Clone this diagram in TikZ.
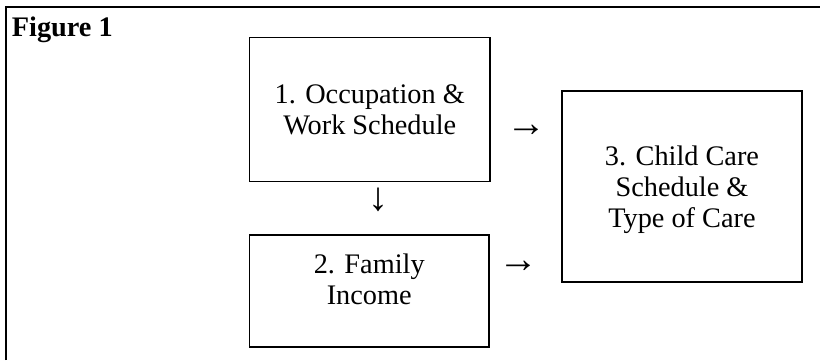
\documentclass[tikz,border=0pt]{standalone}
\usepackage{fontspec}
\setmainfont{Liberation Serif}
\newcommand{\figfont}{\fontsize{28.3}{31}\selectfont}
\newcommand{\arrowfont}{\fontsize{40}{40}\selectfont}

\begin{document}
\begin{tikzpicture}[x=1pt, y=-1pt, line width=1.8pt, every node/.style={font=\figfont},
    stage/.style={draw, align=center, inner sep=0pt},
    glyph/.style={inner sep=0pt, font=\arrowfont}]
      \useasboundingbox (0, 0) rectangle (820, 360);
      \draw (6, 360) -- (6, 7.3) -- (820, 7.3);

      \node[anchor=base west, inner sep=0pt, font=\figfont\bfseries] (title) at (11, 36) {Figure 1};

      \node[stage, minimum width=240.5pt, minimum height=144pt] (occ) at (369.75, 109.5) {1. Occupation \&\\Work Schedule};
      \node[stage, minimum width=239.5pt, minimum height=112pt, text depth=23.3pt] (inc) at (369.25, 291) {2. Family\\Income};
      \node[stage, minimum width=240pt, minimum height=191pt, text depth=0pt] (care) at (682, 186.5) {3. Child Care\\Schedule \&\\Type of Care};

      \node[glyph] (occcare) at (526.2, 131) {→};
      \node[glyph] (occinc) at (378.3, 199.5) {↓};
      \node[glyph] (inccare) at (518.9, 266.7) {→};

    \end{tikzpicture}
\end{document}
